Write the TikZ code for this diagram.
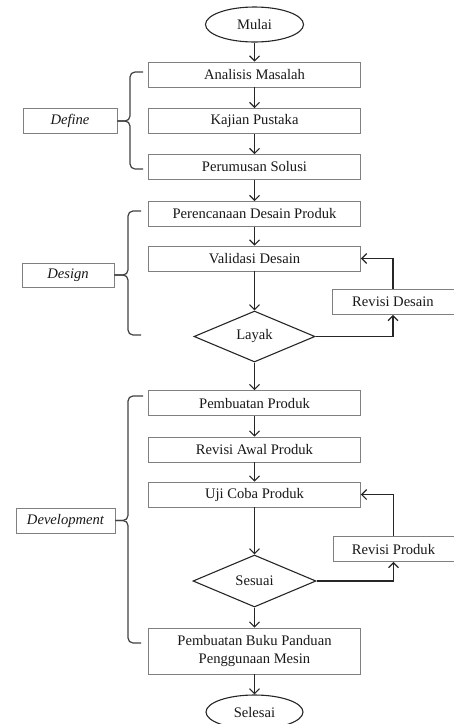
\documentclass[tikz,border=0pt]{standalone}
\usepackage{fontspec}
\setmainfont{Liberation Serif}
\usetikzlibrary{shapes.geometric,arrows.meta}
\begin{document}
\begin{tikzpicture}[x=1pt,y=-1pt,
  txt/.style={font=\fontsize{14.6}{18}\selectfont, text=black!90, align=center, inner sep=0pt},
  box/.style={txt, draw=black!50, line width=0.9pt, minimum width=212pt, minimum height=25pt, fill=white},
  side/.style={txt, draw=black!50, line width=0.9pt, minimum height=25pt, fill=white},
  term/.style={txt, ellipse, draw=black!85, line width=1.1pt, minimum width=98pt, minimum height=35pt},
  dec/.style={txt, diamond, draw=black!85, line width=1.1pt, aspect=2.4},
  arr/.style={draw=black!85, line width=1.1pt, -{Straight Barb[length=5pt,width=10pt,line width=1.1pt]}},
  brc/.style={draw=black!75, line width=1.2pt, rounded corners=5pt}
]
\useasboundingbox (0,0) rectangle (454,724);

% main column
\node[term] (mulai) at (254.5,24.5) {Mulai};
\node[box] (anal) at (254.5,74.5) {Analisis Masalah};
\node[box] (kaji) at (254.5,121) {Kajian Pustaka};
\node[box] (rumus) at (254.5,167) {Perumusan Solusi};
\node[box] (renc) at (254.5,214) {Perencanaan Desain Produk};
\node[box] (valid) at (254.5,258.5) {Validasi Desain};
\node[dec, minimum width=121pt, minimum height=51pt] (layak) at (254.5,336.5) {Layak};
\node[box] (buat) at (254.5,403) {Pembuatan Produk};
\node[box] (awal) at (254.5,449.5) {Revisi Awal Produk};
\node[box] (uji) at (254.5,494.5) {Uji Coba Produk};
\node[dec, minimum width=123pt, minimum height=52pt] (sesuai) at (254.5,581) {Sesuai};
\node[box, minimum height=46pt] (buku) at (254.5,651) {Pembuatan Buku Panduan\\Penggunaan Mesin};
\node[term, minimum width=97pt, minimum height=34pt] (selesai) at (254.5,712) {Selesai};

% revision boxes
\node[side, minimum width=122pt] (revd) at (393,302) {Revisi Desain};
\node[side, minimum width=121pt] (revp) at (393.5,549) {Revisi Produk};

% phase labels
\node[side, minimum width=94pt] (defl) at (70,121) {\itshape Define};
\node[side, minimum width=92pt, minimum height=24pt] (desl) at (68,275) {\itshape Design};
\node[side, minimum width=99pt] (devl) at (65.5,520.5) {\itshape Development};

% main flow
\draw[arr] (mulai) -- (anal);
\draw[arr] (anal) -- (kaji);
\draw[arr] (kaji) -- (rumus);
\draw[arr] (rumus) -- (renc);
\draw[arr] (renc) -- (valid);
\draw[arr] (valid) -- (layak);
\draw[arr] (layak) -- (buat);
\draw[arr] (buat) -- (awal);
\draw[arr] (awal) -- (uji);
\draw[arr] (uji) -- (sesuai);
\draw[arr] (sesuai) -- (buku);
\draw[arr] (buku) -- (selesai);

% loops
\draw[arr] (layak.east) -| (revd.south);
\draw[arr] (revd.north) |- (valid.east);
\draw[arr] (sesuai.east) -| (revp.south);
\draw[arr] (revp.north) |- (uji.east);

% braces
\draw[brc] (143,72) -- (130,72) -- (130,121) -- (defl.east);
\draw[brc] (143,169) -- (130,169) -- (130,121) -- (defl.east);
\draw[brc] (141,211) -- (128,211) -- (128,275) -- (desl.east);
\draw[brc] (141,335) -- (128,335) -- (128,275) -- (desl.east);
\draw[brc] (143,396) -- (128,396) -- (128,520.5) -- (devl.east);
\draw[brc] (141,643) -- (128,643) -- (128,520.5) -- (devl.east);
\end{tikzpicture}
\end{document}
